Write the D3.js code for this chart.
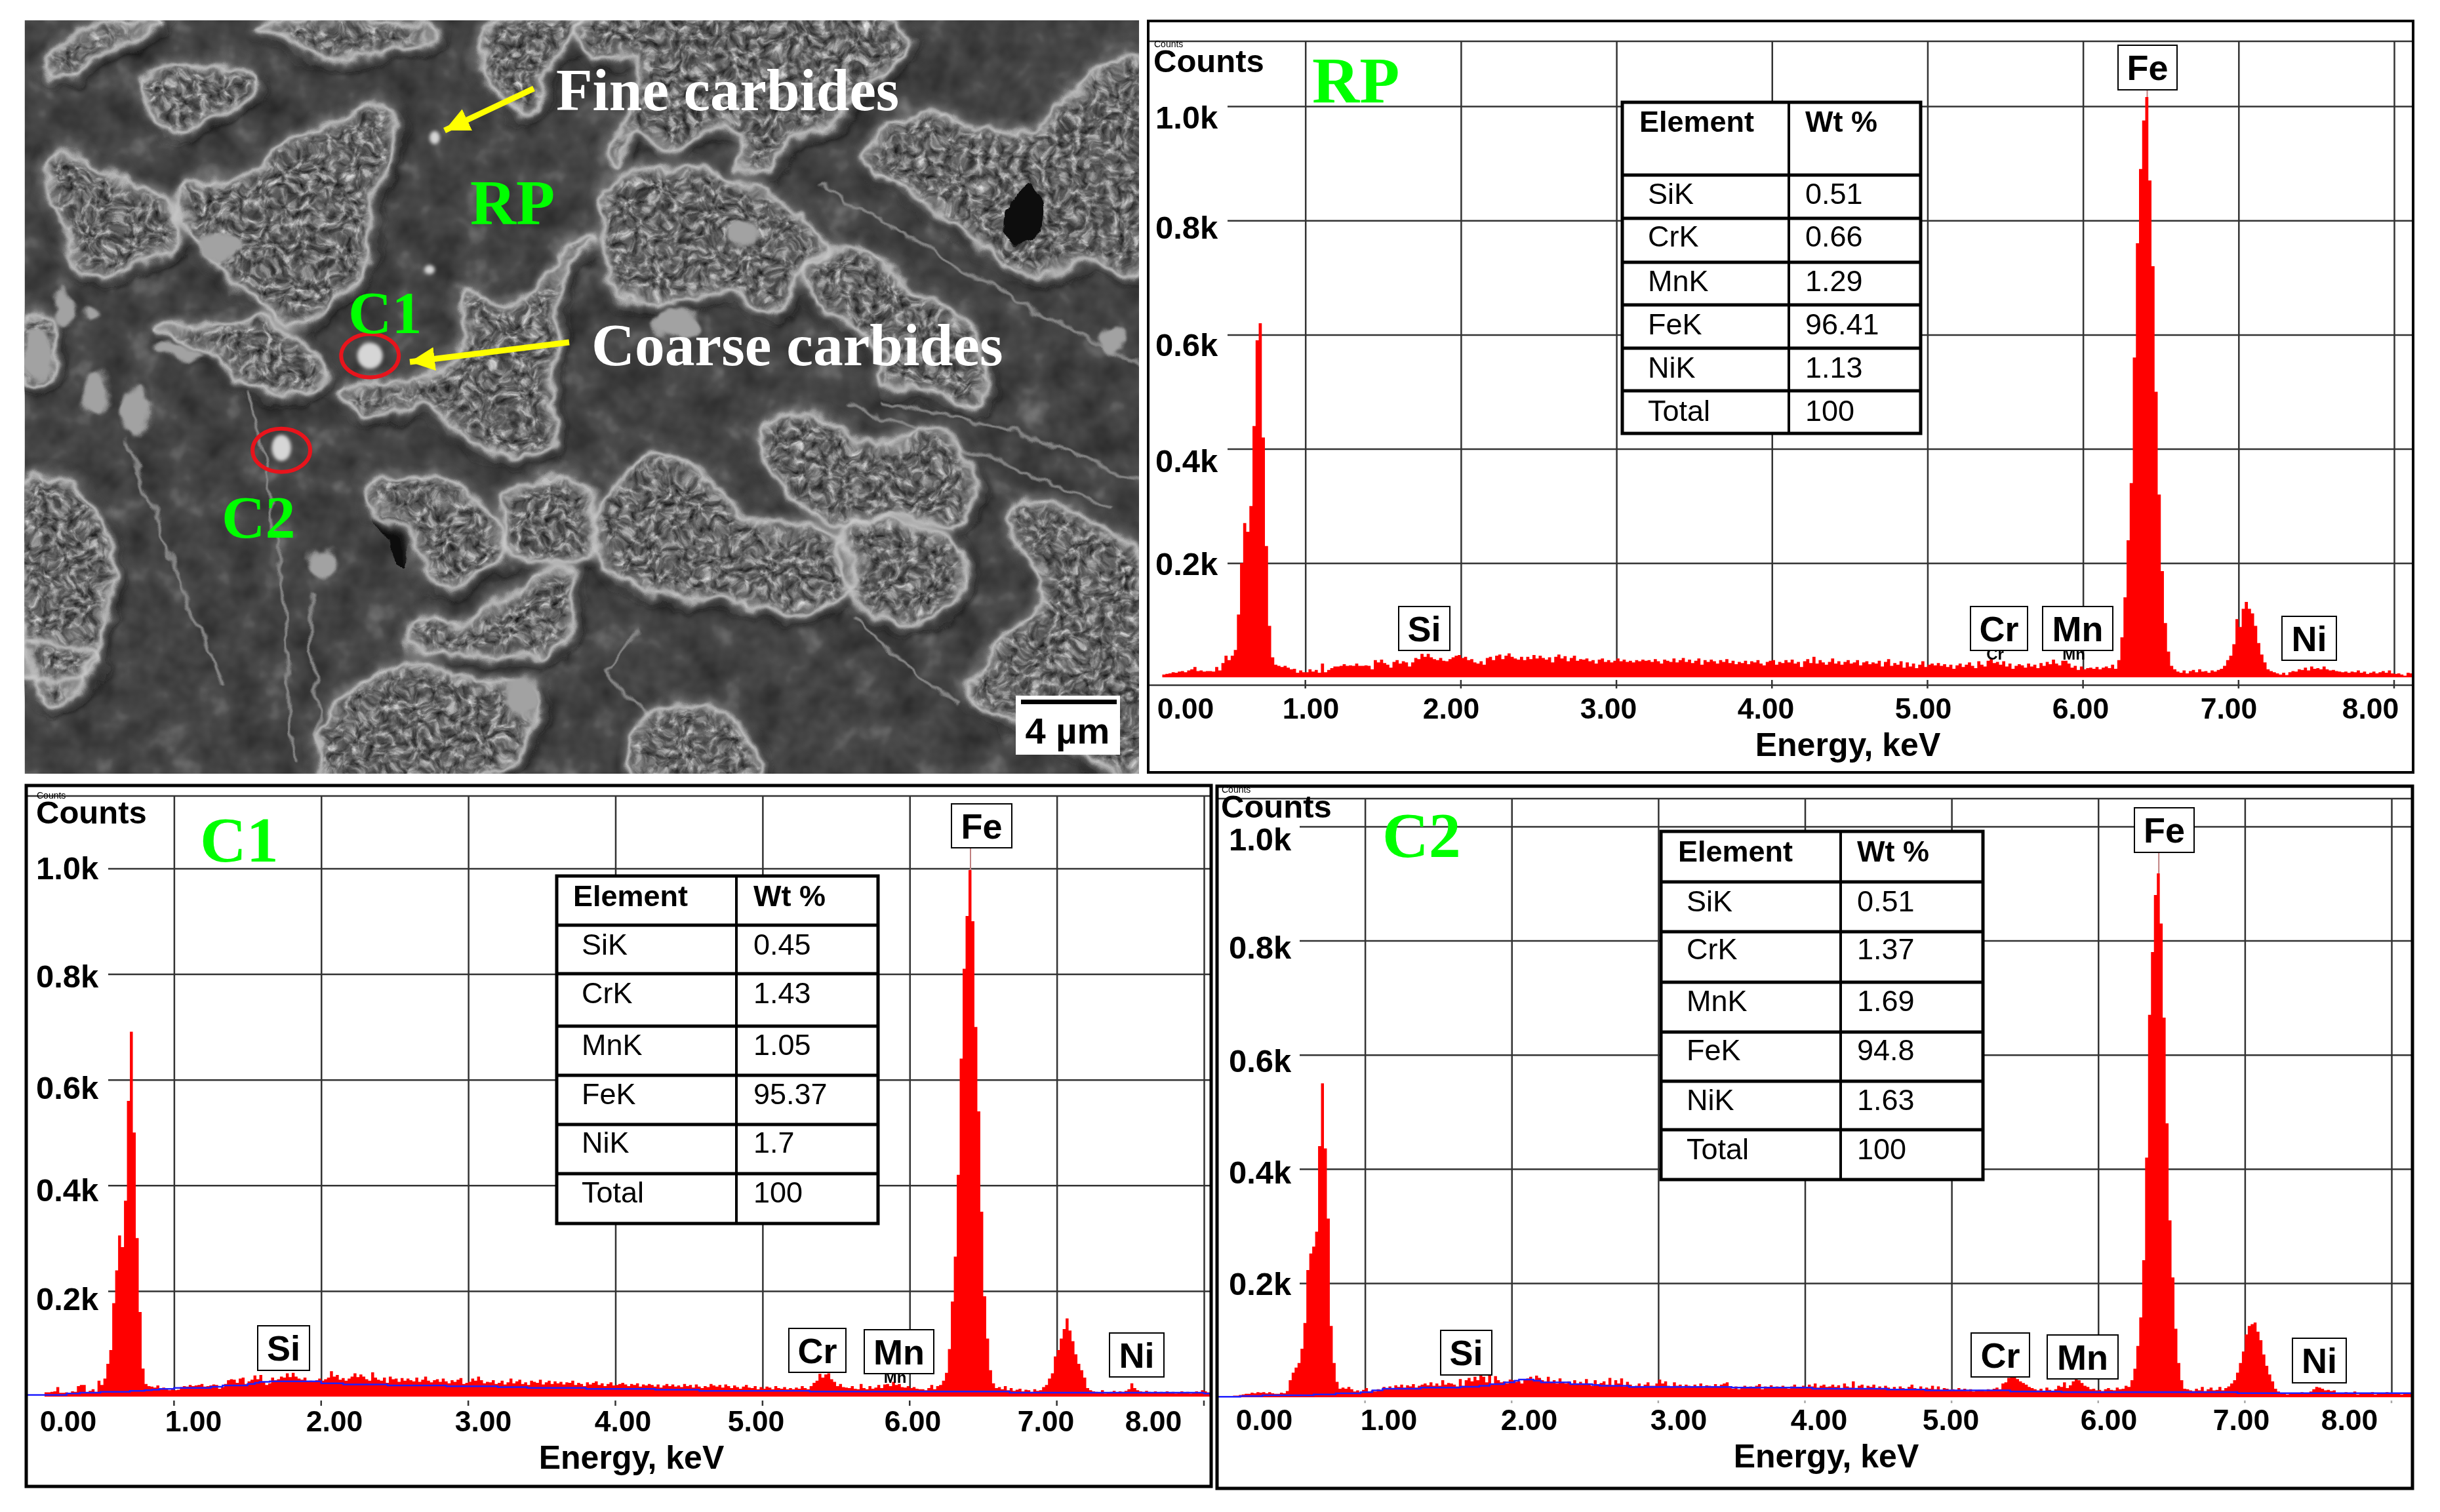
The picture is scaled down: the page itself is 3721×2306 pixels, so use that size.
<!DOCTYPE html>
<html><head><meta charset="utf-8">
<style>html,body{margin:0;padding:0;background:#fff;overflow:hidden}svg{display:block}
.sans{font-family:"Liberation Sans",Arial,sans-serif}.serif{font-family:"Liberation Serif","Times New Roman",serif}</style>
<script src="https://cdn.jsdelivr.net/npm/d3@7"></script></head><body><div id="c"></div>
<script>
// ---------- values (counts per 0.02 keV channel; each row is 0.2 keV) ----------
const channelWidth = 0.02;
const rpCounts = [
0,0,0,0,5,6,7,9,8,10, 11,9,12,14,18,11,12,10,11,11, 10,18,12,25,38,30,38,48,110,200, 270,255,300,440,590,620,420,230,90,35,
22,20,18,20,17,14,15,8,12,9, 9,14,10,13,8,24,9,13,16,19, 19,20,23,20,21,20,24,20,20,21, 20,14,30,26,31,25,22,17,27,30,
24,28,26,19,26,34,32,41,36,41, 35,32,30,34,29,28,32,35,38,39, 34,36,30,32,26,24,28,22,34,36, 30,38,40,32,38,42,36,33,31,36,
30,36,32,39,33,38,34,31,35,26, 36,40,33,37,28,34,38,29,32,31, 33,28,30,24,31,33,27,30,26,29, 33,28,31,27,29,26,30,28,31,29,
30,27,32,28,24,31,29,27,33,26, 30,34,27,31,25,29,33,22,30,27, 31,28,24,30,27,32,25,29,23,27, 25,29,23,28,26,30,24,21,27,29,
30,22,27,25,30,26,31,24,27,18, 28,32,25,36,24,30,26,22,27,33, 24,28,22,27,30,24,26,30,21,26, 28,23,26,24,29,19,27,32,20,25,
22,28,17,26,19,24,16,22,28,18, 22,24,21,25,20,23,18,22,15,21, 24,18,22,26,20,16,28,22,19,29, 32,25,27,22,28,19,24,15,20,23,
21,17,24,19,22,16,25,20,27,23, 31,24,21,29,29,24,17,20,13,19, 14,16,17,15,18,14,17,19,16,22, 15,30,70,140,240,340,560,760,890,975,
1016,870,720,500,320,186,95,45,20,14, 10,8,12,7,11,13,9,14,10,11, 8,12,10,13,15,20,30,38,58,102, 88,120,132,120,112,90,60,40,26,14,
11,9,7,5,8,4,9,11,10,14, 13,17,12,19,15,16,14,19,14,12, 13,11,10,9,10,8,10,9,12,8, 10,6,8,10,7,9,11,8,12,7, 6,7,5,3,8,7,8];
const c1Counts = [
0,0,0,0,0,0,8,8,9,10, 18,7,7,8,7,10,9,20,22,22, 8,11,14,9,30,22,34,62,88,177, 239,305,283,371,560,691,500,300,160,53,
24,20,19,17,21,15,17,15,12,14, 12,13,18,20,19,22,20,21,22,24, 19,20,21,23,22,15,18,24,31,33, 32,26,34,36,24,29,32,40,33,41,
28,22,25,36,31,33,38,36,44,37, 45,38,34,32,36,29,30,28,31,34, 30,33,36,48,38,41,32,35,30,34, 38,44,37,42,38,33,30,46,36,32,
30,36,26,38,33,34,28,35,30,34, 31,29,36,28,32,38,30,27,31,33, 28,34,29,25,31,28,32,35,24,26, 28,34,30,38,31,25,28,27,31,24,
26,30,23,27,34,25,29,32,24,27, 22,30,28,26,32,23,27,30,24,29, 25,28,23,27,26,30,22,26,24,20, 27,23,26,29,22,25,20,24,27,21,
22,24,26,23,20,24,22,25,19,23, 21,24,22,19,23,17,21,24,20,23, 19,21,18,24,20,22,17,23,19,16, 20,18,24,21,19,22,17,23,20,16,
21,18,15,19,22,17,16,20,14,18, 15,19,17,14,20,16,15,18,14,16, 14,17,15,20,16,14,20,26,30,43, 36,42,44,33,28,20,24,18,17,16,
20,15,14,24,16,14,20,15,17,22, 16,23,24,20,28,22,24,18,17,20, 16,18,15,14,14,12,16,22,14,20, 22,30,45,90,180,265,420,640,810,910,
997,900,700,540,350,190,110,50,25,16, 18,14,20,12,16,11,13,15,10,13, 12,9,14,11,12,18,22,34,44,76, 88,110,128,148,125,105,80,62,50,36,
16,12,10,9,8,12,6,8,9,11, 8,10,9,11,14,25,16,12,10,9, 11,9,8,10,7,9,8,10,7,9, 6,8,10,7,9,6,8,10,7,12, 10,8,9,7];
const c2Counts = [
0,0,0,0,0,3,3,4,5,6, 6,8,7,9,8,9,7,9,7,6, 6,8,7,11,30,43,52,60,85,130, 223,252,264,290,440,550,436,313,125,60,
27,15,17,15,18,14,10,12,9,13, 16,8,12,10,14,12,18,14,19,16, 21,18,22,17,21,19,23,17,20,22, 24,21,26,20,24,20,30,22,25,24,
22,19,32,20,30,34,28,36,30,38, 36,26,38,22,37,30,26,28,24,31, 30,27,28,24,30,33,36,31,38,34, 30,28,36,26,30,24,33,26,24,28,
22,30,24,27,22,32,24,20,30,23, 25,28,22,34,20,30,24,33,19,27, 22,18,20,24,18,22,26,20,20,24, 31,24,28,20,18,26,20,22,17,22,
20,18,22,19,24,17,21,20,18,23, 18,22,24,26,17,15,19,14,18,20, 17,19,18,20,23,14,19,17,21,16, 19,17,20,18,15,19,22,17,16,20,
18,22,19,24,17,20,22,18,19,22, 18,21,16,24,19,17,28,16,20,22, 16,20,18,22,14,19,16,20,17,13, 18,15,19,16,14,18,22,16,14,19,
13,17,15,20,14,19,12,16,15,13, 14,12,16,13,15,11,14,10,12,13, 13,11,14,12,15,17,14,24,26,34, 35,36,32,28,25,22,18,16,14,12,
15,11,17,13,10,14,20,18,26,16, 21,28,33,30,25,20,18,14,15,12, 13,11,14,16,13,12,17,14,15,20, 18,30,50,90,140,240,420,670,780,880,
918,830,665,480,310,210,120,60,30,15, 14,12,11,15,12,18,11,14,17,12, 13,18,12,16,19,24,30,43,60,80, 110,125,128,131,115,100,75,55,40,28,
15,10,8,6,5,7,8,6,7,9, 8,7,10,14,18,17,15,12,13,11, 12,8,7,6,9,7,8,10,5,7, 8,6,7,9,5,7,8,6,9,7, 6,8,7,5,7,6,8];
// fitted background (blue step line): energy where each step starts, and its counts
const c1BgEnergy = [0.0,0.27,0.36,0.5,0.7,0.8,0.85,0.9,1.0,1.25,1.33,1.5,1.55,1.58,1.65,2.0,2.15,2.45,2.85,3.2,3.4,3.8,4.27,4.57,5.32,6.68,8.0,8.06];
const c1BgCounts = [3,6,7.5,9,11,12,13,14.5,16.5,18.6,21,24,26,28,29,25,23,21,19.5,18,16.5,14.5,13,11,9.5,7.5,6,6];
const c2BgEnergy = [0.0,0.15,0.3,0.65,0.8,0.97,1.05,1.12,1.38,1.65,1.78,1.85,1.95,2.02,2.05,2.15,2.2,2.4,2.55,2.6,2.8,3.5,4.05,4.56,4.82,5.4,5.75,6.95,8.14];
const c2BgCounts = [1,2,3.4,5,7,9,12,15,17,18.4,20,23,26,29,31,29,26,23,21.5,20,18,17,15,13.4,12,10,9,7.3,7.3];
const energyTicks = [1,2,3,4,5,6,7,8];
const energyLabels = ["0.00","1.00","2.00","3.00","4.00","5.00","6.00","7.00","8.00"];
const countTicks = [200,400,600,800,1000];
const countLabels = ["0.2k","0.4k","0.6k","0.8k","1.0k"];
const tableHead = ["Element","Wt %"];
const tableElements = ["SiK","CrK","MnK","FeK","NiK","Total"];
const rpWt = ["0.51","0.66","1.29","96.41","1.13","100"];
const c1Wt = ["0.45","1.43","1.05","95.37","1.7","100"];
const c2Wt = ["0.51","1.37","1.69","94.8","1.63","100"];
const tagNames = ["Si","Cr","Mn","Fe","Ni"];

// ---------- layout (pixels) ----------
const panels = [
 {id:"RP",title:"RP",counts:rpCounts,wt:rpWt,box:[1751,32,3680,1178],innerTop:63,x0:1753.5,x8:3651,base:1033,y1k:162,gridLeft:1872,maxE:8.13,axisLine:1045,tickY:[1037,1050],
  xLabelX:[1808,1999,2213,2453,2693,2933,3173,3399,3615],xLabelY:1080,energyX:2818,energyY:1140,
  yLabelX:1762,yLabelY:[859,702,525,346,178],countsX:1759,countsY:92,titleX:2001,titleY:156,
  table:{x:[2474,2728,2929],y:[156,267,333,400,465,531,596,661],t0:2500,t1:2513,t2:2753,cy:[185,295,360,428,494,560,626]},
  tags:[[2133,925,2211,992],[3005,925,3092,992],[3115,925,3222,992],[3230,69,3320,137],[3480,940,3563,1007]],sub:[1,2]},
 {id:"C1",title:"C1",counts:c1Counts,wt:c1Wt,box:[40,1198,1847,2267],innerTop:1214,x0:41,x8:1836,base:2130,y1k:1324.5,gridLeft:165,maxE:8.06,tickY:[2136,2144],
  bgE:c1BgEnergy,bgC:c1BgCounts,
  xLabelX:[104,295,510,737,950,1153,1392,1595,1759],xLabelY:2167,energyX:963,energyY:2227,
  yLabelX:55,yLabelY:[1980,1814,1658,1488,1323],countsX:55,countsY:1238,titleX:305,titleY:1314,
  table:{x:[849,1123,1339],y:[1336,1411,1485,1565,1640,1715,1790,1866],t0:874,t1:887,t2:1149,cy:[1366,1440,1514,1593,1668,1742,1818]},
  tags:[[393,2022,472,2090],[1203,2026,1290,2093],[1318,2028,1424,2095],[1451,1226,1543,1293],[1692,2033,1775,2100]],sub:[2]},
 {id:"C2",title:"C2",counts:c2Counts,wt:c2Wt,box:[1856,1199,3679,2270],innerTop:1218,x0:1858,x8:3647,base:2131,y1k:1260.5,gridLeft:1982,maxE:8.14,tickY:[2136,2140],
  bgE:c2BgEnergy,bgC:c2BgCounts,
  xLabelX:[1928,2118,2332,2560,2774,2975,3216,3418,3583],xLabelY:2165,energyX:2785,energyY:2225,
  yLabelX:1874,yLabelY:[1957,1787,1617,1444,1279],countsX:1862,countsY:1229,titleX:2108,titleY:1307,
  table:{x:[2533,2807,3024],y:[1268,1345,1421,1498,1574,1649,1723,1799],t0:2559,t1:2572,t2:2832,cy:[1298,1374,1447,1526,1601,1677,1752]},
  tags:[[2197,2029,2275,2097],[3006,2033,3095,2100],[3122,2036,3230,2103],[3255,1232,3346,1300],[3496,2041,3578,2109]],sub:[]}
];

// ---------- micrograph outlines, in a 1568-unit frame over the photo corner ----------
const colonies = [
 [[60,130],[110,60],[220,45],[140,100],[90,150]],
 [[70,300],[150,340],[180,370],[230,400],[240,470],[180,530],[110,540],[90,470],[70,400]],
 [[240,380],[320,350],[390,280],[450,240],[520,210],[530,300],[500,400],[495,520],[450,600],[400,640],[340,590],[300,540],[260,470]],
 [[190,160],[250,130],[345,150],[340,190],[280,230],[240,265],[200,220]],
 [[350,50],[540,45],[590,70],[520,100],[430,115],[380,80]],
 [[660,40],[780,40],[740,130],[710,225],[650,150]],
 [[780,40],[1200,40],[1220,100],[1160,170],[1120,240],[1060,280],[1030,340],[990,330],[1000,270],[960,250],[900,300],[850,260],[830,330],[815,290],[840,240],[860,120],[790,110]],
 [[1160,310],[1180,270],[1240,220],[1310,250],[1390,260],[1420,210],[1530,110],[1530,540],[1470,520],[1370,540],[1300,460],[1220,380]],
 [[815,370],[900,330],[1010,370],[1070,420],[1110,490],[1070,540],[1050,620],[980,580],[880,600],[830,580],[810,480]],
 [[1080,520],[1150,485],[1220,560],[1250,600],[1300,640],[1320,800],[1240,770],[1180,760],[1190,700],[1100,600]],
 [[620,570],[680,600],[740,540],[770,480],[800,470],[760,540],[750,650],[740,760],[740,890],[680,900],[620,860],[570,800],[490,820],[460,770],[560,750],[600,720],[625,640]],
 [[210,650],[310,640],[360,630],[430,720],[430,770],[330,760],[290,700]],
 [[490,960],[600,950],[640,990],[680,1100],[620,1150],[580,1160],[555,1060],[500,1000]],
 [[680,980],[780,950],[800,1060],[790,1100],[690,1090]],
 [[800,1030],[880,900],[960,960],[1010,1030],[1090,1040],[1120,1060],[1150,1120],[1130,1190],[1060,1210],[960,1180],[900,1180],[820,1130]],
 [[1020,850],[1090,820],[1180,880],[1260,850],[1310,960],[1280,1040],[1200,1020],[1130,1040],[1050,960]],
 [[1130,1050],[1200,1030],[1290,1090],[1280,1200],[1220,1230],[1160,1200]],
 [[1350,1020],[1400,990],[1480,1040],[1530,1090],[1530,1530],[1400,1450],[1300,1370],[1340,1280],[1400,1170]],
 [[620,1230],[760,1120],[770,1220],[740,1290],[600,1290],[550,1280],[560,1220]],
 [[450,1400],[550,1310],[620,1340],[720,1360],[720,1420],[660,1530],[430,1530]],
 [[33,950],[100,960],[150,1090],[130,1280],[100,1370],[60,1390],[33,1260]],
 [[33,620],[70,630],[65,750],[33,760]],
 [[880,1400],[970,1410],[1020,1530],[850,1530]],
 [[33,1280],[130,1290],[120,1340],[33,1330]]
];
const darkHoles = [[[1370,370],[1400,400],[1390,470],[1350,470]],[[505,1010],[545,1040],[550,1130],[530,1090]]];
const brightBlobs = [[130,775,18,45],[182,810,20,50],[85,610,15,35],[435,1115,20,25],[295,485,30,25],[905,640,30,30],[1495,670,15,30],[1000,465,18,20],[240,695,30,15],[50,700,18,50],[700,1380,25,40],[120,620,10,14]];
const streaks = [[[330,780],[365,1000],[385,1300],[392,1500]],[[415,1170],[425,1350],[430,1500]],[[1100,360],[1300,540],[1530,720]],[[1180,790],[1350,850],[1530,950]],[[170,870],[230,1100],[300,1350]],[[1140,800],[1320,900],[1500,1010]],[[1150,1220],[1220,1320],[1290,1390]],[[860,1240],[820,1320],[870,1420]]];
const carbideMarks = [[497,703,17,26],[378,885,13,26],[584,272,7,13],[577,533,7,9]];
const rings = [[497,703],[378,890]];

// ---------- drawing ----------
const W=3721,H=2306;
const svg=d3.select("#c").append("svg").attr("width",W).attr("height",H).attr("viewBox",[0,0,W,H]);
const defs=svg.append("defs");
function tex(id,bf,oct,seed,gain,off,mode){
  const f=defs.append("filter").attr("id",id).attr("filterUnits","userSpaceOnUse").attr("x",0).attr("y",0).attr("width",1800).attr("height",1220).attr("color-interpolation-filters","sRGB");
  f.append("feTurbulence").attr("type","fractalNoise").attr("baseFrequency",bf).attr("numOctaves",oct).attr("seed",seed).attr("result","n");
  f.append("feColorMatrix").attr("in","n").attr("type","matrix").attr("values",`${gain} 0 0 0 ${off} ${gain} 0 0 0 ${off} ${gain} 0 0 0 ${off} 0 0 0 0 1`).attr("result","g");
  f.append("feBlend").attr("in","SourceGraphic").attr("in2","g").attr("mode",mode).attr("result","b");
  f.append("feComposite").attr("in","b").attr("in2","SourceAlpha").attr("operator","in");
}
tex("baseTex",0.02,3,5,0.4,0.25,"overlay");
tex("colTex",0.08,3,11,0.95,0.02,"overlay");
const rough=defs.append("filter").attr("id","rough").attr("filterUnits","userSpaceOnUse").attr("x",0).attr("y",0).attr("width",1800).attr("height",1220);
rough.append("feTurbulence").attr("type","fractalNoise").attr("baseFrequency",0.022).attr("numOctaves",3).attr("seed",9).attr("result","n");
rough.append("feDisplacementMap").attr("in","SourceGraphic").attr("in2","n").attr("scale",30).attr("xChannelSelector","R").attr("yChannelSelector","G");
[["b3",2.5],["b8",8],["b1",1.2]].forEach(([id,s])=>defs.append("filter").attr("id",id).attr("x","-20%").attr("y","-20%").attr("width","140%").attr("height","140%").append("feGaussianBlur").attr("stdDeviation",s));
defs.append("clipPath").attr("id","photoClip").append("rect").attr("x",37.5).attr("y",31).attr("width",1699.5).attr("height",1149);

const px=d3.scaleLinear([0,1568],[0,1780]), py=d3.scaleLinear([0,1568],[0,1210]);
const blob=d3.line().x(d=>px(d[0])).y(d=>py(d[1])).curve(d3.curveCatmullRomClosed.alpha(0.5));
const stroke=d3.line().x(d=>px(d[0])).y(d=>py(d[1])).curve(d3.curveCatmullRom);

const photo=svg.append("g").attr("clip-path","url(#photoClip)");
photo.append("rect").attr("x",37.5).attr("y",31).attr("width",1700).attr("height",1150).attr("fill","#4b4b4b").attr("filter","url(#baseTex)");
const rg=photo.append("g").attr("filter","url(#rough)");
rg.append("g").attr("filter","url(#b8)").selectAll("path").data(colonies).join("path").attr("d",blob).attr("fill","none").attr("stroke","#101010").attr("stroke-width",15).attr("transform","translate(6,8)");
rg.append("g").selectAll("path").data(streaks).join("path").attr("d",stroke).attr("fill","none").attr("stroke","#858585").attr("stroke-width",5).attr("filter","url(#b1)");
rg.append("g").attr("filter","url(#colTex)").selectAll("path").data(colonies).join("path").attr("d",blob).attr("fill","#666");
rg.append("g").selectAll("path").data(darkHoles).join("path").attr("d",blob).attr("fill","#0c0c0c");
rg.append("g").attr("filter","url(#b8)").selectAll("path").data(colonies).join("path").attr("d",blob).attr("fill","none").attr("stroke","#9a9a9a").attr("stroke-width",13);
rg.append("g").attr("filter","url(#b3)").selectAll("path").data(colonies).join("path").attr("d",blob).attr("fill","none").attr("stroke","#cccccc").attr("stroke-width",5);
rg.append("g").attr("filter","url(#b3)").selectAll("ellipse").data(brightBlobs).join("ellipse").attr("cx",d=>px(d[0])).attr("cy",d=>py(d[1])).attr("rx",d=>px(d[2])).attr("ry",d=>py(d[3])).attr("fill","#a2a2a2");
photo.append("g").attr("filter","url(#b3)").selectAll("ellipse").data(carbideMarks).join("ellipse").attr("cx",d=>px(d[0])).attr("cy",d=>py(d[1])).attr("rx",d=>px(d[2])).attr("ry",d=>py(d[3])).attr("fill","#d6d6d6");
photo.selectAll("ellipse.ring").data(rings).join("ellipse").attr("class","ring").attr("cx",d=>px(d[0])).attr("cy",d=>py(d[1])).attr("rx",44).attr("ry",33).attr("fill","none").attr("stroke","#e8141c").attr("stroke-width",6);

// arrows and captions on the photo
defs.append("marker").attr("id","ah").attr("markerUnits","userSpaceOnUse").attr("markerWidth",44).attr("markerHeight",40).attr("refX",38).attr("refY",20).attr("orient","auto").append("path").attr("d","M0,2L38,20L0,38Z").attr("fill","#ffff00");
const arrows=[[814,135,678,199],[868,522,625,552]];
svg.selectAll("line.arrow").data(arrows).join("line").attr("class","arrow").attr("x1",d=>d[0]).attr("y1",d=>d[1]).attr("x2",d=>d[2]).attr("y2",d=>d[3]).attr("stroke","#ffff00").attr("stroke-width",9).attr("marker-end","url(#ah)");
const captions=[["Fine carbides",848,168,91,"#fff"],["Coarse carbides",902,557,91.5,"#fff"],["RP",717,342,97,"#00ff00"],["C1",531,508,92,"#00ff00"],["C2",338,820,92,"#00ff00"]];
svg.selectAll("text.cap").data(captions).join("text").attr("class","cap serif").attr("x",d=>d[1]).attr("y",d=>d[2]).attr("font-size",d=>d[3]).attr("font-weight","bold").attr("fill",d=>d[4]).text(d=>d[0]);
svg.append("rect").attr("x",1549).attr("y",1061).attr("width",159).attr("height",90).attr("fill","#fff");
svg.append("rect").attr("x",1557).attr("y",1067).attr("width",146).attr("height",7).attr("fill","#000");
svg.append("text").attr("class","sans").attr("x",1628).attr("y",1134).attr("text-anchor","middle").attr("font-size",56).attr("font-weight","bold").text("4 µm");

// the three spectra
panels.forEach(p=>{
  const [bx0,by0,bx1,by1]=p.box;
  const x=d3.scaleLinear([0,8],[p.x0,p.x8]), y=d3.scaleLinear([0,1000],[p.base,p.y1k]);
  const g=svg.append("g").attr("class","panel sans");
  const cid="clip"+p.id;
  defs.append("clipPath").attr("id",cid).append("rect").attr("x",bx0).attr("y",by0).attr("width",bx1-bx0).attr("height",by1-by0);
  g.append("rect").attr("x",bx0).attr("y",by0).attr("width",bx1-bx0).attr("height",by1-by0).attr("fill","#fff");
  g.append("line").attr("x1",bx0).attr("x2",bx1).attr("y1",p.innerTop).attr("y2",p.innerTop).attr("stroke","#333").attr("stroke-width",2.5);

  // grid through d3 axes
  const gx=g.append("g").attr("transform",`translate(0,${p.base})`).call(d3.axisBottom(x).tickValues(energyTicks).tickSize(p.innerTop-p.base).tickFormat(""));
  gx.select(".domain").remove(); gx.selectAll("line").attr("stroke","#333").attr("stroke-width",2.5);
  const gy=g.append("g").attr("transform",`translate(${bx1},0)`).call(d3.axisLeft(y).tickValues(countTicks).tickSize(bx1-p.gridLeft).tickFormat(""));
  gy.select(".domain").remove(); gy.selectAll("line").attr("stroke","#333").attr("stroke-width",2.5);
  if(p.axisLine) g.append("line").attr("x1",bx0).attr("x2",bx1).attr("y1",p.axisLine).attr("y2",p.axisLine).attr("stroke","#333").attr("stroke-width",2.5);
  g.selectAll("line.tick2").data(energyTicks).join("line").attr("class","tick2").attr("x1",d=>x(d)).attr("x2",d=>x(d)).attr("y1",p.tickY[0]).attr("y2",p.tickY[1]).attr("stroke",p.id==="C2"?"#aaa":"#333").attr("stroke-width",2.5);

  // spectrum
  const pts=p.counts.map((c,i)=>({e:i*channelWidth,c})).filter(d=>d.c>0);
  pts.push({e:pts[pts.length-1].e+channelWidth,c:pts[pts.length-1].c});
  const area=d3.area().x(d=>x(d.e)).y0(y(0)).y1(d=>y(d.c)).curve(d3.curveStepAfter);
  const sg=g.append("g").attr("clip-path",`url(#${cid})`);
  sg.append("path").datum(pts).attr("d",area).attr("fill","#ff0000");
  const peak=d3.greatest(pts,d=>d.c);
  const fe=p.tags[3];
  sg.append("line").attr("x1",x(peak.e)+3).attr("x2",x(peak.e)+3).attr("y1",fe[3]).attr("y2",y(peak.c)).attr("stroke","#c08080").attr("stroke-width",2);
  if(p.bgE){
    const bg=p.bgE.map((e,i)=>({e,c:p.bgC[i]}));
    sg.append("path").datum(bg).attr("d",d3.line().x(d=>x(d.e)).y(d=>y(d.c)).curve(d3.curveStepAfter)).attr("fill","none").attr("stroke","#1f1fff").attr("stroke-width",2.5);
  }

  // labels
  g.selectAll("text.xl").data(energyLabels).join("text").attr("class","xl").attr("x",(d,i)=>p.xLabelX[i]).attr("y",p.xLabelY).attr("dy",".36em").attr("text-anchor","middle").attr("font-size",44.5).attr("font-weight","bold").text(d=>d);
  g.selectAll("text.yl").data(countLabels).join("text").attr("class","yl").attr("x",p.yLabelX).attr("y",(d,i)=>p.yLabelY[i]).attr("dy",".36em").attr("font-size",49).attr("font-weight","bold").text(d=>d);
  g.append("text").attr("x",p.countsX).attr("y",p.countsY).attr("dy",".36em").attr("font-size",49).attr("font-weight","bold").text("Counts");
  g.append("text").attr("x",p.countsX+1).attr("y",p.countsY-20).attr("font-size",14).text("Counts");
  g.append("text").attr("x",p.energyX).attr("y",p.energyY).attr("dy",".25em").attr("text-anchor","middle").attr("font-size",50).attr("font-weight","bold").text("Energy, keV");
  g.append("text").attr("class","serif").attr("x",p.titleX).attr("y",p.titleY).attr("font-size",p.id==="RP"?100:98).attr("font-weight","bold").attr("fill","#00ff00").style("font-family",'"Liberation Serif",serif').text(p.title);

  // element table
  const t=p.table;
  g.append("rect").attr("x",t.x[0]).attr("y",t.y[0]).attr("width",t.x[2]-t.x[0]).attr("height",t.y[7]-t.y[0]).attr("fill","#fff").attr("stroke","#000").attr("stroke-width",5);
  g.append("line").attr("x1",t.x[1]).attr("x2",t.x[1]).attr("y1",t.y[0]).attr("y2",t.y[7]).attr("stroke","#000").attr("stroke-width",4);
  g.selectAll("line.row").data(t.y.slice(1,7)).join("line").attr("class","row").attr("x1",t.x[0]).attr("x2",t.x[2]).attr("y1",d=>d).attr("y2",d=>d).attr("stroke","#000").attr("stroke-width",5);
  g.append("text").attr("x",t.t0).attr("y",t.cy[0]).attr("dy",".36em").attr("font-size",45).attr("font-weight","bold").text(tableHead[0]);
  g.append("text").attr("x",t.t2).attr("y",t.cy[0]).attr("dy",".36em").attr("font-size",45).attr("font-weight","bold").text(tableHead[1]);
  g.selectAll("text.el").data(tableElements).join("text").attr("class","el").attr("x",t.t1).attr("y",(d,i)=>t.cy[i+1]).attr("dy",".36em").attr("font-size",45).text(d=>d);
  g.selectAll("text.wt").data(p.wt).join("text").attr("class","wt").attr("x",t.t2).attr("y",(d,i)=>t.cy[i+1]).attr("dy",".36em").attr("font-size",45).text(d=>d);

  // element tags
  p.sub.forEach(i=>g.append("text").attr("x",(p.tags[i][0]+p.tags[i][2])/2-6).attr("y",p.tags[i][3]+14).attr("text-anchor","middle").attr("font-size",24).attr("font-weight","bold").text(tagNames[i]));
  const tag=g.selectAll("g.tag").data(p.tags).join("g").attr("class","tag");
  tag.append("rect").attr("x",d=>d[0]).attr("y",d=>d[1]).attr("width",d=>d[2]-d[0]).attr("height",d=>d[3]-d[1]).attr("fill","#fff").attr("stroke","#000").attr("stroke-width",2);
  tag.append("text").attr("x",d=>(d[0]+d[2])/2).attr("y",d=>(d[1]+d[3])/2).attr("dy",".36em").attr("text-anchor","middle").attr("font-size",54).attr("font-weight","bold").text((d,i)=>tagNames[i]);

  g.append("rect").attr("x",bx0).attr("y",by0).attr("width",bx1-bx0).attr("height",by1-by0).attr("fill","none").attr("stroke","#000").attr("stroke-width",p.id==="RP"?4:5);
});
</script></body></html>
